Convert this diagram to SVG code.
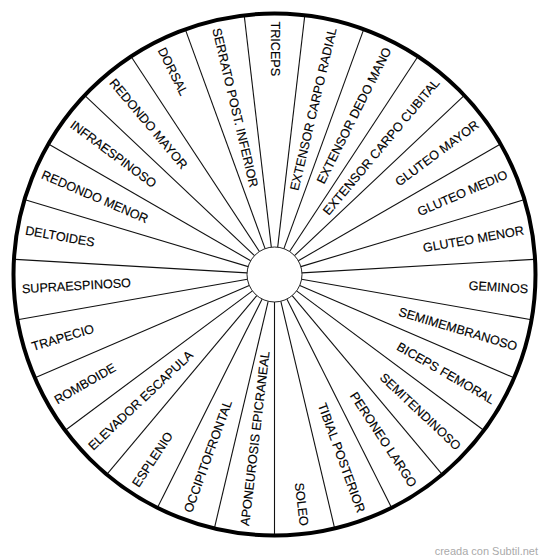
<svg xmlns="http://www.w3.org/2000/svg" width="550" height="559" viewBox="0 0 550 559">
<style>
.sp{stroke:#111;stroke-width:1.1;fill:none}
.lb{font-family:"Liberation Sans",Arial,sans-serif;font-size:12.6px;fill:#000;stroke:#000;stroke-width:0.15;dominant-baseline:central}
.out{text-anchor:end}
.in{text-anchor:start}
</style>
<rect width="550" height="559" fill="#fff"/>
<g id="spokes" class="sp">
<line x1="274.5" y1="247" x2="274.5" y2="15" transform="rotate(6.667 274.5 274.5)"/>
<line x1="274.5" y1="247" x2="274.5" y2="15" transform="rotate(20 274.5 274.5)"/>
<line x1="274.5" y1="247" x2="274.5" y2="15" transform="rotate(33.333 274.5 274.5)"/>
<line x1="274.5" y1="247" x2="274.5" y2="15" transform="rotate(46.667 274.5 274.5)"/>
<line x1="274.5" y1="247" x2="274.5" y2="15" transform="rotate(60 274.5 274.5)"/>
<line x1="274.5" y1="247" x2="274.5" y2="15" transform="rotate(73.333 274.5 274.5)"/>
<line x1="274.5" y1="247" x2="274.5" y2="15" transform="rotate(86.667 274.5 274.5)"/>
<line x1="274.5" y1="247" x2="274.5" y2="15" transform="rotate(100 274.5 274.5)"/>
<line x1="274.5" y1="247" x2="274.5" y2="15" transform="rotate(113.333 274.5 274.5)"/>
<line x1="274.5" y1="247" x2="274.5" y2="15" transform="rotate(126.667 274.5 274.5)"/>
<line x1="274.5" y1="247" x2="274.5" y2="15" transform="rotate(140 274.5 274.5)"/>
<line x1="274.5" y1="247" x2="274.5" y2="15" transform="rotate(153.333 274.5 274.5)"/>
<line x1="274.5" y1="247" x2="274.5" y2="15" transform="rotate(166.667 274.5 274.5)"/>
<line x1="274.5" y1="247" x2="274.5" y2="15" transform="rotate(180 274.5 274.5)"/>
<line x1="274.5" y1="247" x2="274.5" y2="15" transform="rotate(193.333 274.5 274.5)"/>
<line x1="274.5" y1="247" x2="274.5" y2="15" transform="rotate(206.667 274.5 274.5)"/>
<line x1="274.5" y1="247" x2="274.5" y2="15" transform="rotate(220 274.5 274.5)"/>
<line x1="274.5" y1="247" x2="274.5" y2="15" transform="rotate(233.333 274.5 274.5)"/>
<line x1="274.5" y1="247" x2="274.5" y2="15" transform="rotate(246.667 274.5 274.5)"/>
<line x1="274.5" y1="247" x2="274.5" y2="15" transform="rotate(260 274.5 274.5)"/>
<line x1="274.5" y1="247" x2="274.5" y2="15" transform="rotate(273.333 274.5 274.5)"/>
<line x1="274.5" y1="247" x2="274.5" y2="15" transform="rotate(286.667 274.5 274.5)"/>
<line x1="274.5" y1="247" x2="274.5" y2="15" transform="rotate(300 274.5 274.5)"/>
<line x1="274.5" y1="247" x2="274.5" y2="15" transform="rotate(313.333 274.5 274.5)"/>
<line x1="274.5" y1="247" x2="274.5" y2="15" transform="rotate(326.667 274.5 274.5)"/>
<line x1="274.5" y1="247" x2="274.5" y2="15" transform="rotate(340 274.5 274.5)"/>
<line x1="274.5" y1="247" x2="274.5" y2="15" transform="rotate(353.333 274.5 274.5)"/>
</g>
<circle id="rim" cx="274.5" cy="274.5" r="261" fill="none" stroke="#000" stroke-width="4"/>
<circle id="hub" cx="274.5" cy="274.5" r="27.5" fill="#fff" stroke="#222" stroke-width="1"/>
<g transform="translate(274.5 274.5)">
<g id="triceps"><text class="lb in" transform="rotate(90)" x="-253" y="0">TRICEPS</text></g>
<g id="ext-carpo-radial"><text class="lb out" transform="rotate(-76.667)" x="253" y="0">EXTENSOR CARPO RADIAL</text></g>
<g id="ext-dedo-mano"><text class="lb out" transform="rotate(-63.333)" x="253" y="0">EXTENSOR DEDO MANO</text></g>
<g id="ext-carpo-cubital"><text class="lb out" transform="rotate(-50)" x="253" y="0">EXTENSOR CARPO CUBITAL</text></g>
<g id="gluteo-mayor"><text class="lb out" transform="rotate(-36.667)" x="253" y="0">GLUTEO MAYOR</text></g>
<g id="gluteo-medio"><text class="lb out" transform="rotate(-23.333)" x="253" y="0">GLUTEO MEDIO</text></g>
<g id="gluteo-menor"><text class="lb out" transform="rotate(-10)" x="253" y="0">GLUTEO MENOR</text></g>
<g id="geminos"><text class="lb out" transform="rotate(3.333)" x="254" y="0">GEMINOS</text></g>
<g id="semimembranoso"><text class="lb out" transform="rotate(16.667)" x="253" y="0">SEMIMEMBRANOSO</text></g>
<g id="biceps-femoral"><text class="lb out" transform="rotate(30)" x="253" y="0">BICEPS FEMORAL</text></g>
<g id="semitendinoso"><text class="lb out" transform="rotate(43.333)" x="253" y="0">SEMITENDINOSO</text></g>
<g id="peroneo-largo"><text class="lb out" transform="rotate(56.667)" x="253" y="0">PERONEO LARGO</text></g>
<g id="tibial-posterior"><text class="lb out" transform="rotate(70)" x="253" y="0">TIBIAL POSTERIOR</text></g>
<g id="soleo"><text class="lb out" transform="rotate(83.333)" x="253" y="0">SOLEO</text></g>
<g id="aponeurosis"><text class="lb in" transform="rotate(276.667)" x="-253" y="0">APONEUROSIS EPICRANEAL</text></g>
<g id="occipitofrontal"><text class="lb in" transform="rotate(290)" x="-253" y="0">OCCIPITOFRONTAL</text></g>
<g id="esplenio"><text class="lb in" transform="rotate(303.333)" x="-253" y="0">ESPLENIO</text></g>
<g id="elevador-escapula"><text class="lb in" transform="rotate(316.667)" x="-253" y="0">ELEVADOR ESCAPULA</text></g>
<g id="romboide"><text class="lb in" transform="rotate(330)" x="-253" y="0">ROMBOIDE</text></g>
<g id="trapecio"><text class="lb in" transform="rotate(343.333)" x="-253" y="0">TRAPECIO</text></g>
<g id="supraespinoso"><text class="lb in" transform="rotate(356.667)" x="-253" y="0">SUPRAESPINOSO</text></g>
<g id="deltoides"><text class="lb in" transform="rotate(10)" x="-253" y="0">DELTOIDES</text></g>
<g id="redondo-menor"><text class="lb in" transform="rotate(23.333)" x="-253" y="0">REDONDO MENOR</text></g>
<g id="infraespinoso"><text class="lb in" transform="rotate(36.667)" x="-253" y="0">INFRAESPINOSO</text></g>
<g id="redondo-mayor"><text class="lb in" transform="rotate(50)" x="-253" y="0">REDONDO MAYOR</text></g>
<g id="dorsal"><text class="lb in" transform="rotate(63.333)" x="-253" y="0">DORSAL</text></g>
<g id="serrato"><text class="lb in" transform="rotate(76.667)" x="-253" y="0">SERRATO POST. INFERIOR</text></g>
</g>
<text x="538" y="555" text-anchor="end" font-family="Liberation Sans,Arial,sans-serif" font-size="11" fill="#aaa">creada con Subtil.net</text>
</svg>
